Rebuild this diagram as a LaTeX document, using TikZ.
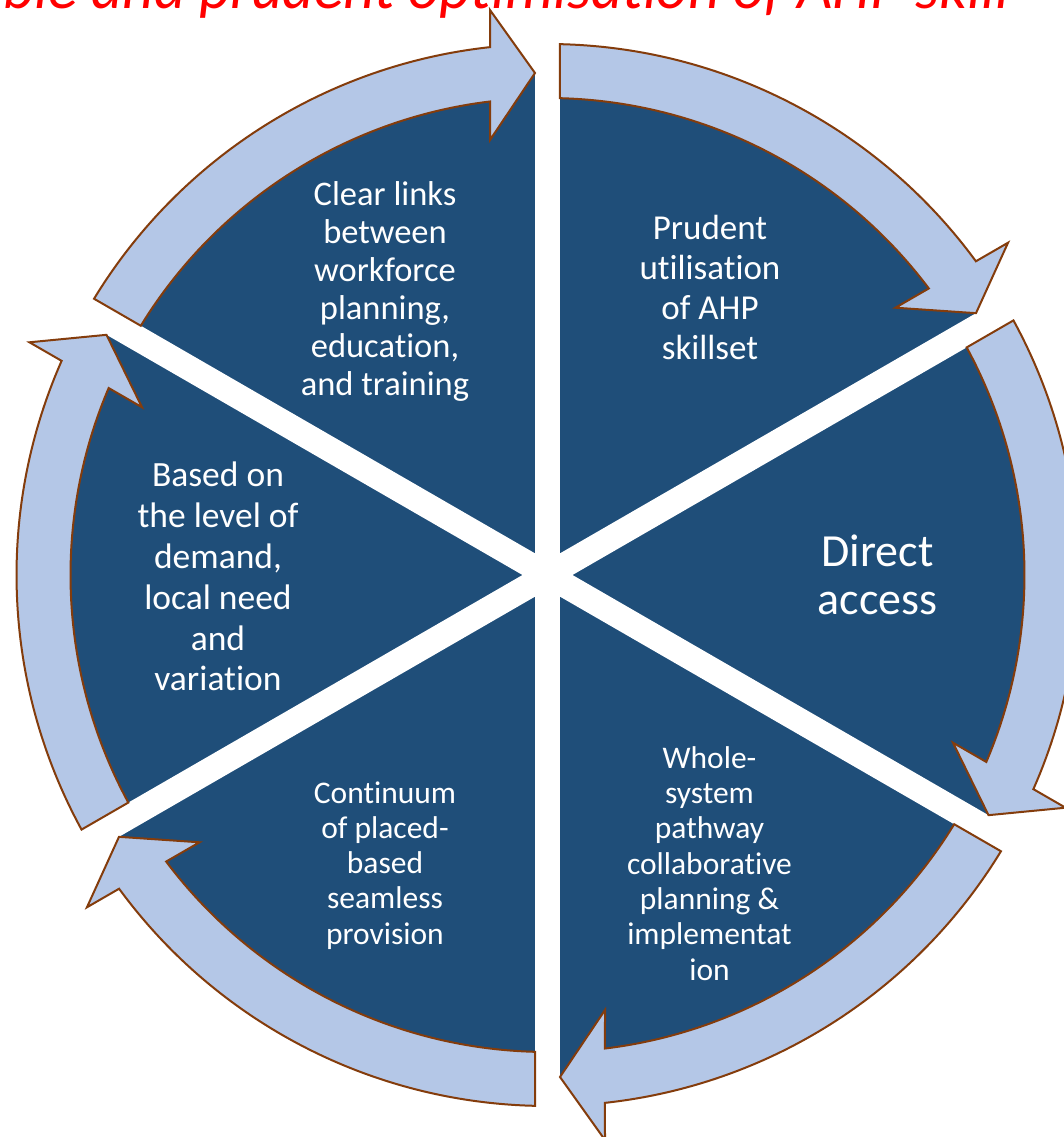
\documentclass[tikz,border=0pt]{standalone}
\usepackage{fontspec}
\setmainfont{Carlito}[Ligatures=NoCommon]
\usetikzlibrary{calc}
\definecolor{pieblue}{HTML}{1F4E79}
\definecolor{ringblue}{HTML}{B4C7E7}
\definecolor{ringedge}{HTML}{843C0C}
\definecolor{titlered}{HTML}{FF0000}
\tikzset{
  ringarrow/.style={fill=ringblue, draw=ringedge, line width=2pt, line join=miter},
  gapline/.style={draw=white, line width=25pt},
  sectortext/.style={text=white, inner sep=0pt, anchor=base},
}
% #1 = angle of the gap where the arrow ends (it runs clockwise from #1+60)
\newcommand{\cyclearrow}[1]{%
  \path[ringarrow] (#1+58.651:531pt)
    arc[start angle=#1+58.651, end angle=#1+6.216, radius=531pt]
    -- ($(#1:565pt)+(#1+90:57.5pt)$)
    -- ($(#1:502pt)+(#1+90:12.5pt)$)
    -- ($(#1:435pt)+(#1+90:57.5pt)$)
    -- (#1+6.924:477pt)
    arc[start angle=#1+6.924, end angle=#1+58.498, radius=477pt]
    -- cycle;
}
\begin{document}
\begin{tikzpicture}[x=1pt,y=1pt]
\fill[white] (-547.5,-562) rectangle (516.5,575);
\useasboundingbox (-547.5,-562) rectangle (516.5,575);
\begin{scope}
\clip (-547.5,-562) rectangle (516.5,575);
\node[anchor=base west, inner sep=0pt, text=titlered,
      font=\fontsize{61}{70}\selectfont\itshape] (title) at (-544.5,566)
      {ble and prudent optimisation of AHP skill};
\end{scope}
% pie
\coordinate (c) at (0,0);
\fill[pieblue] (c) circle[radius=502pt];
\draw[gapline] (90:510pt) -- (-90:510pt);
\draw[gapline] (30:510pt) -- (210:510pt);
\draw[gapline] (150:510pt) -- (-30:510pt);
% arrows
\cyclearrow{90}
\cyclearrow{30}
\cyclearrow{-30}
\cyclearrow{-90}
\cyclearrow{-150}
\cyclearrow{150}
% texts
\node[sectortext] (clear) at (-162.5,369.3) {\fontsize{34.5}{37.9}\selectfont
  \begin{tabular}[t]{@{}c@{}}Clear links\\between\\workforce\\planning,\\education,\\and training\end{tabular}};
\node[sectortext] (prudent) at (162.5,335.7) {\fontsize{35}{40}\selectfont
  \begin{tabular}[t]{@{}c@{}}Prudent\\utilisation\\of AHP\\skillset\end{tabular}};
\node[sectortext] (direct) at (330,8.3) {\fontsize{46}{48.3}\selectfont
  \begin{tabular}[t]{@{}c@{}}Direct\\access\end{tabular}};
\node[sectortext] (whole) at (162,-193.3) {\fontsize{31.5}{35.3}\selectfont
  \begin{tabular}[t]{@{}c@{}}Whole-\\system\\pathway\\collaborative\\planning \&\\implementat\\ion\end{tabular}};
\node[sectortext] (continuum) at (-162.5,-228) {\fontsize{31.5}{35.3}\selectfont
  \begin{tabular}[t]{@{}c@{}}Continuum\\of placed-\\based\\seamless\\provision\end{tabular}};
\node[sectortext] (based) at (-329.5,88) {\fontsize{35.5}{40.8}\selectfont
  \begin{tabular}[t]{@{}c@{}}Based on\\the level of\\demand,\\local need\\and\\variation\end{tabular}};
\end{tikzpicture}
\end{document}
